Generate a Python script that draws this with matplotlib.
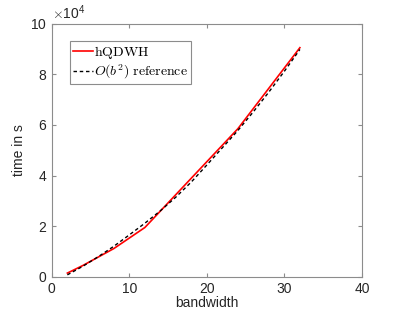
import numpy as np
import matplotlib.pyplot as plt
from matplotlib.ticker import ScalarFormatter

# hQDWH timings (seconds) per bandwidth
bw = [2, 4, 8, 12, 16, 24, 32]
t_hqdwh = [1500, 4500, 11200, 19500, 32500, 58500, 90500]

# O(b^2) reference curve
bw_ref = [2, 4, 6, 8, 10, 12, 14, 16, 18, 20, 22, 24, 26, 28, 30, 32]
t_ref = [800, 4200, 8000, 12100, 16600, 21200, 26100, 31500, 37500,
         44200, 51000, 57800, 65200, 73000, 81200, 89800]

plt.rcParams['font.family'] = ['Liberation Sans', 'DejaVu Sans']
plt.rcParams['mathtext.fontset'] = 'cm'

fig = plt.figure(figsize=(3.99, 3.15), dpi=100)
ax = fig.add_axes([0.130, 0.121, 0.777, 0.804])

ax.plot(bw, t_hqdwh, color='red', lw=1.2, label=r'$\mathrm{hQDWH}$')
ax.plot(bw_ref, t_ref, 'k--', lw=1.0, dashes=(2.5, 2), label=r'$O(b^2)\ \mathrm{reference}$')

ax.set_xlim(0, 40)
ax.set_ylim(0, 100000)
ax.set_xticks([0, 10, 20, 30, 40])
ax.set_yticks(np.arange(0, 100001, 20000))

fmt = ScalarFormatter(useMathText=True)
fmt.set_powerlimits((4, 4))
ax.yaxis.set_major_formatter(fmt)
ax.yaxis.get_offset_text().set_fontsize(10)
ax.yaxis.get_offset_text().set_color('#262626')

for s in ax.spines.values():
    s.set_color('#8c8c8c')
    s.set_linewidth(0.8)
ax.tick_params(direction='in', top=True, right=True, length=3, width=0.8,
               color='#8c8c8c', labelcolor='#262626', labelsize=10)

ax.set_xlabel('bandwidth', fontsize=10, color='#262626', labelpad=0)
ax.set_ylabel('time in s', fontsize=10, color='#262626', labelpad=3)

leg = ax.legend(loc='upper left', bbox_to_anchor=(0.06, 0.93), fontsize=10,
                fancybox=False, framealpha=1, handlelength=1.4,
                handletextpad=0.1, borderpad=0.2, labelspacing=0.1,
                borderaxespad=0)
leg.get_frame().set_edgecolor('#8c8c8c')
leg.get_frame().set_linewidth(0.8)

plt.savefig('out.png', dpi=100)
